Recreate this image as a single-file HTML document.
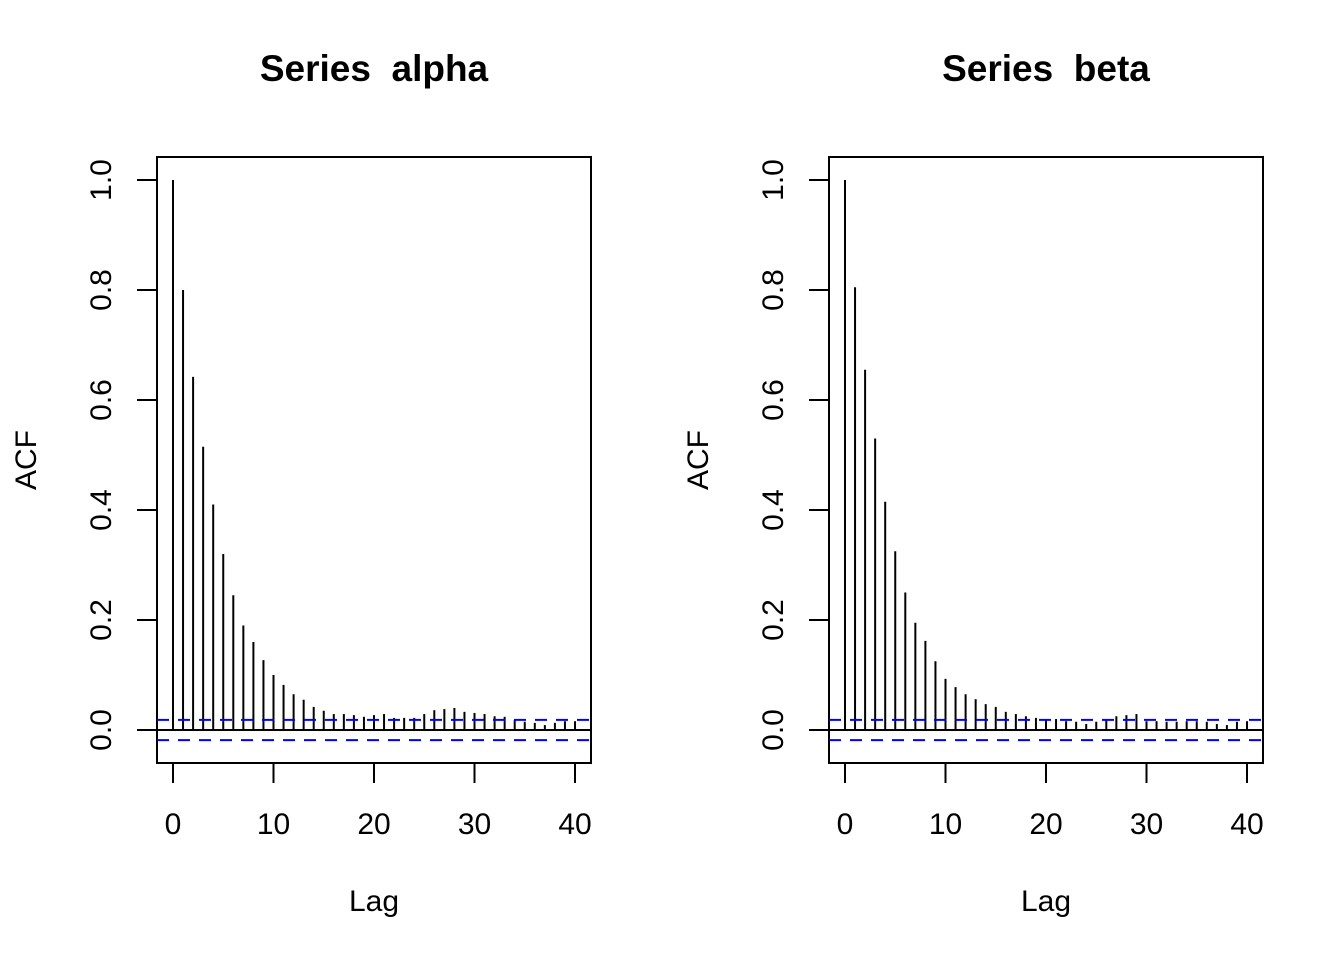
<!DOCTYPE html>
<html><head><meta charset="utf-8"><style>
html,body{margin:0;padding:0;background:#fff}
svg{display:block;font-family:"Liberation Sans",Arial,sans-serif}
text{white-space:pre}
</style></head><body>
<svg id="chart" width="1344" height="960" viewBox="0 0 1344 960"></svg>
<script>
const lags = Array.from({length:41},(_,i)=>i);
const alphaAcf = [1,0.8,0.642,0.515,0.41,0.32,0.245,0.19,0.16,0.127,0.1,0.082,0.065,0.055,0.042,0.035,0.029,0.029,0.027,0.024,0.027,0.029,0.022,0.022,0.022,0.029,0.036,0.038,0.04,0.033,0.031,0.029,0.025,0.024,0.018,0.015,0.013,0.009,0.013,0.016,0.016];
const betaAcf = [1,0.805,0.655,0.53,0.415,0.325,0.25,0.195,0.162,0.125,0.093,0.078,0.065,0.056,0.047,0.042,0.033,0.029,0.025,0.022,0.02,0.02,0.016,0.015,0.011,0.015,0.02,0.025,0.027,0.029,0.016,0.016,0.015,0.015,0.016,0.016,0.015,0.011,0.009,0.015,0.016];
const ciBound = 0.0185;
const xTicks = [0,10,20,30,40];
const yTicks = [0,0.2,0.4,0.6,0.8,1.0];
const yTickLabels = ["0.0","0.2","0.4","0.6","0.8","1.0"];
const titles = ["Series  alpha","Series  beta"];

const svg = document.getElementById('chart');
const NS = 'http://www.w3.org/2000/svg';
function mk(tag, attrs, parent){const e=document.createElementNS(NS,tag);for(const k in attrs)e.setAttribute(k,attrs[k]);parent.appendChild(e);return e;}

function panel(offset, data, title, key){
  const g = mk('g',{},svg);
  
  
  const xs = v => 173 + offset + v*(402/40);
  const ys = v => 730 - v*550;
  const x0 = 157+offset, x1 = 591+offset;
  const t = mk('text',{x:(x0+x1)/2,y:81,'text-anchor':'middle','font-size':37,'font-weight':'bold'},g);
  t.textContent = title;
  
  
  const box = mk('rect',{x:x0,y:157,width:x1-x0,height:606,fill:'none',stroke:'#000','stroke-width':2},g);
  
  
  const xa = mk('g',{},g);
  
  
  mk('line',{x1:xs(xTicks[0]),x2:xs(xTicks[xTicks.length-1]),y1:763,y2:763,stroke:'#000','stroke-width':2},xa);
  xTicks.forEach(v=>{
    mk('line',{x1:xs(v),x2:xs(v),y1:763,y2:783,stroke:'#000','stroke-width':2},xa);
    const tx = mk('text',{x:xs(v),y:834,'text-anchor':'middle','font-size':30},xa);
    tx.textContent = v;
    
    
  });
  const xl = mk('text',{x:xs(20),y:911,'text-anchor':'middle','font-size':30},g);
  xl.textContent='Lag';
  
  
  const ya = mk('g',{},g);
  
  
  mk('line',{x1:x0,x2:x0,y1:ys(0),y2:ys(1),stroke:'#000','stroke-width':2},ya);
  yTicks.forEach((v,i)=>{
    mk('line',{x1:x0,x2:x0-20,y1:ys(v),y2:ys(v),stroke:'#000','stroke-width':2},ya);
    const tx = mk('text',{x:0,y:0,'text-anchor':'middle','font-size':30,transform:`translate(${x0-46},${ys(v)}) rotate(-90)`},ya);
    tx.textContent = yTickLabels[i];
    
    
  });
  const yl = mk('text',{x:0,y:0,'text-anchor':'middle','font-size':30,transform:`translate(${x0-121},${(157+763)/2}) rotate(-90)`},g);
  yl.textContent='ACF';
  
  
  const z = mk('line',{x1:x0,x2:x1,y1:ys(0),y2:ys(0),stroke:'#000','stroke-width':2},g);
  
  
  data.forEach((v,i)=>{
    const b = mk('line',{x1:xs(lags[i]),x2:xs(lags[i]),y1:ys(0),y2:ys(v),stroke:'#000','stroke-width':2},g);
    
    
  });
  [ciBound,-ciBound].forEach(c=>{
    const l = mk('line',{x1:x0,x2:x1,y1:ys(c),y2:ys(c),stroke:'#0000ff','stroke-width':2,'stroke-dasharray':'12,9'},g);
    
    
  });
}
panel(0, alphaAcf, titles[0], 'alpha');
panel(672, betaAcf, titles[1], 'beta');
</script>
</body></html>
